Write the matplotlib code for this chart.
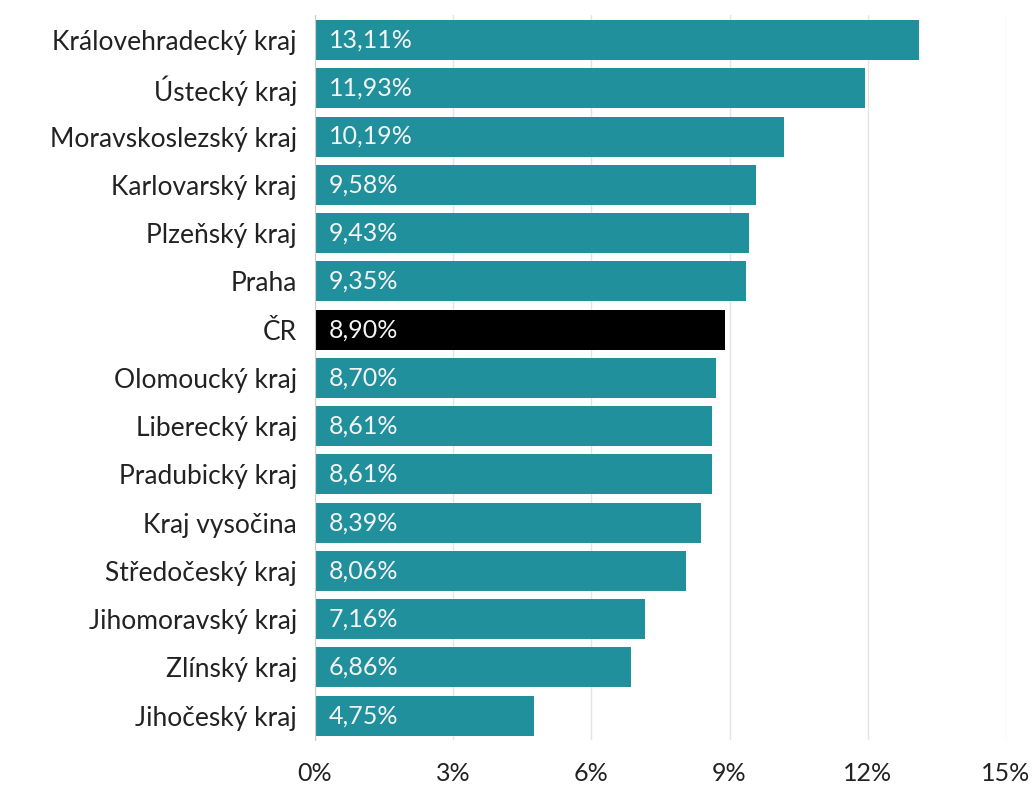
import numpy as np
import matplotlib.pyplot as plt
from matplotlib.ticker import FuncFormatter

plt.rcParams['font.family'] = ['Lato', 'DejaVu Sans']

# Regions and their shares (%)
regions = ['Královehradecký kraj', 'Ústecký kraj', 'Moravskoslezský kraj',
           'Karlovarský kraj', 'Plzeňský kraj', 'Praha', 'ČR',
           'Olomoucký kraj', 'Liberecký kraj', 'Pradubický kraj',
           'Kraj vysočina', 'Středočeský kraj', 'Jihomoravský kraj',
           'Zlínský kraj', 'Jihočeský kraj']
values = [13.11, 11.93, 10.19, 9.58, 9.43, 9.35, 8.90, 8.70, 8.61, 8.61,
          8.39, 8.06, 7.16, 6.86, 4.75]
xticks = [0, 3, 6, 9, 12, 15]

teal = '#21909d'
colors = ['black' if r == 'ČR' else teal for r in regions]

fig = plt.figure(figsize=(10.36, 7.87), dpi=100)
ax = fig.add_axes([0.304, 0.060, 0.667, 0.921])

y = np.arange(len(regions))
ax.barh(y, values, height=0.83, color=colors, zorder=2)

for yi, v in zip(y, values):
    ax.text(0.3, yi, f'{v:.2f}%'.replace('.', ','), color='#f4f4f4',
            va='center', ha='left', fontsize=18, zorder=3)

ax.set_ylim(len(regions) - 0.5, -0.52)
ax.set_xlim(0, 15)
ax.set_yticks(y)
ax.set_yticklabels(regions, fontsize=19, color='#222222')
ax.set_xticks(xticks)
ax.xaxis.set_major_formatter(FuncFormatter(lambda v, p: f'{v:.0f}%'))
ax.tick_params(axis='x', labelsize=18, labelcolor='#222222', length=0, pad=16)
ax.tick_params(axis='y', length=0, pad=13)

ax.grid(axis='x', color='#e4e4e4', linewidth=1, zorder=0)
for s in ['top', 'right', 'bottom']:
    ax.spines[s].set_visible(False)
ax.spines['left'].set_color('#cccccc')

fig.savefig('out.png', dpi=100)
